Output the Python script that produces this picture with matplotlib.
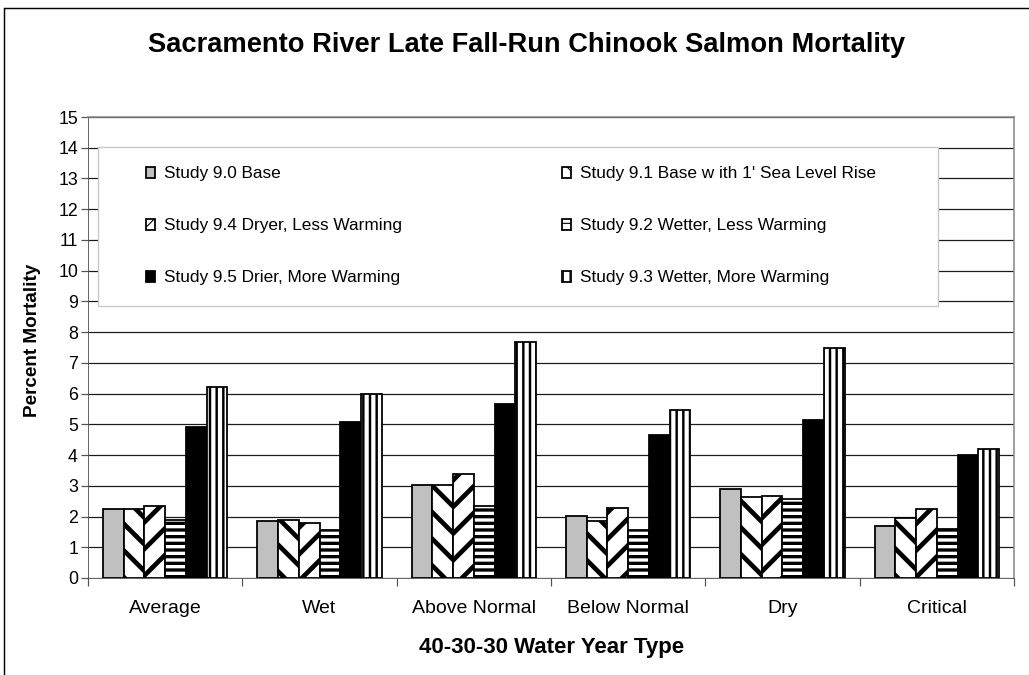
import numpy as np
import matplotlib
matplotlib.use("Agg")
import matplotlib.pyplot as plt
from matplotlib.patches import Rectangle

plt.rcParams['font.family'] = ['Liberation Sans', 'DejaVu Sans']

# Data
# ----
categories = ['Average', 'Wet', 'Above Normal', 'Below Normal', 'Dry', 'Critical']

# bar order inside each group
series_names = ['Study 9.0 Base',
                "Study 9.1 Base w ith 1' Sea Level Rise",
                'Study 9.4 Dryer, Less Warming',
                'Study 9.2 Wetter, Less Warming',
                'Study 9.5 Drier, More Warming',
                'Study 9.3 Wetter, More Warming']

study_90 = [2.23, 1.85, 3.03, 2.01, 2.90, 1.70]
study_91 = [2.23, 1.88, 3.03, 1.85, 2.62, 1.94]
study_94 = [2.34, 1.79, 3.37, 2.27, 2.68, 2.25]
study_92 = [1.90, 1.56, 2.35, 1.55, 2.58, 1.60]
study_95 = [4.91, 5.06, 5.66, 4.64, 5.14, 3.99]
study_93 = [6.22, 5.98, 7.67, 5.46, 7.50, 4.21]

yticks = list(range(0, 16))

series = [study_90, study_91, study_94, study_92, study_95, study_93]
styles = [  # facecolor, hatch, hatch linewidth (pt)
    ('#c0c0c0', None, 1.0),
    ('white', '\\', 4.2),
    ('white', '/', 4.2),
    ('white', '--', 3.0),
    ('black', None, 1.0),
    ('white', '||', 2.2),
]

# dpi 80 so that the hatch spacing comes out like the original
DPI = 80
fig = plt.figure(figsize=(1029 / DPI, 675 / DPI), dpi=DPI)
ax = fig.add_axes([88 / 1029, 1 - 578 / 675, 926 / 1029, 461 / 675])

x = np.arange(len(categories))
bw = 0.134
offsets = (np.arange(6) - 2.5) * bw
handles = []
for vals, off, (fc, hatch, hlw), name in zip(series, offsets, styles, series_names):
    with plt.rc_context({'hatch.linewidth': hlw}):
        b = ax.bar(x + off, vals, bw, color=fc, edgecolor='black',
                   linewidth=1.6, hatch=hatch, label=name, zorder=3)
    handles.append(b)

ax.set_xlim(-0.5, len(categories) - 0.5)
ax.set_ylim(0, 15)
ax.set_yticks(yticks)
ax.tick_params(axis='y', labelsize=16, length=6, width=1.1, color='#555555', pad=3)
ax.set_xticks(x)
ax.set_xticklabels(categories, fontsize=17.5)
ax.set_xticks(np.arange(len(categories) + 1) - 0.5, minor=True)
ax.tick_params(axis='x', which='major', length=0, pad=20)
ax.tick_params(axis='x', which='minor', length=7, width=1.1, color='#555555')
ax.yaxis.grid(True, color='#1a1a1a', linewidth=1.1, zorder=0)
ax.set_axisbelow(True)
for s in ['top', 'right']:
    ax.spines[s].set_color('#888888')
    ax.spines[s].set_linewidth(1.4)
ax.spines['left'].set_color('#555555')
ax.spines['bottom'].set_color('#555555')

fig.text(33 / 1029, 1 - 340 / 675, 'Percent Mortality', rotation=90,
         ha='center', va='center', fontsize=17, fontweight='bold')
fig.text(552 / 1029, 1 - 648 / 675, '40-30-30 Water Year Type',
         ha='center', va='center', fontsize=20, fontweight='bold')
fig.text(527 / 1029, 1 - 45 / 675, 'Sacramento River Late Fall-Run Chinook Salmon Mortality',
         ha='center', va='center', fontsize=24.5, fontweight='bold')

# legend box, drawn over the gridlines
ax.add_patch(Rectangle((0.011, 0.590), 0.907, 0.345, transform=ax.transAxes,
                       facecolor='white', edgecolor='#c8c8c8', linewidth=1.2, zorder=4))

# legend: two columns, laid out row by row like the original
leg_kw = dict(loc='upper left', fontsize=15.5, frameon=False, handlelength=0.52,
              handleheight=0.58, handletextpad=0.5, labelspacing=2.15,
              borderpad=0, borderaxespad=0)
left_idx = [0, 2, 4]
right_idx = [1, 3, 5]
leg1 = ax.legend([handles[i] for i in left_idx], [series_names[i] for i in left_idx],
                 bbox_to_anchor=(0.0627, 0.893), **leg_kw)
leg1.set_zorder(5)
ax.add_artist(leg1)
leg2 = ax.legend([handles[i] for i in right_idx], [series_names[i] for i in right_idx],
                 bbox_to_anchor=(0.512, 0.893), **leg_kw)
leg2.set_zorder(5)

# outer frame of the picture
fig.patches.append(Rectangle((4 / 1029, -0.05), 1.05, 1.05 - 8 / 675,
                             transform=fig.transFigure, fill=False,
                             edgecolor='black', linewidth=1.3))

fig.savefig('out.png', dpi=DPI)
